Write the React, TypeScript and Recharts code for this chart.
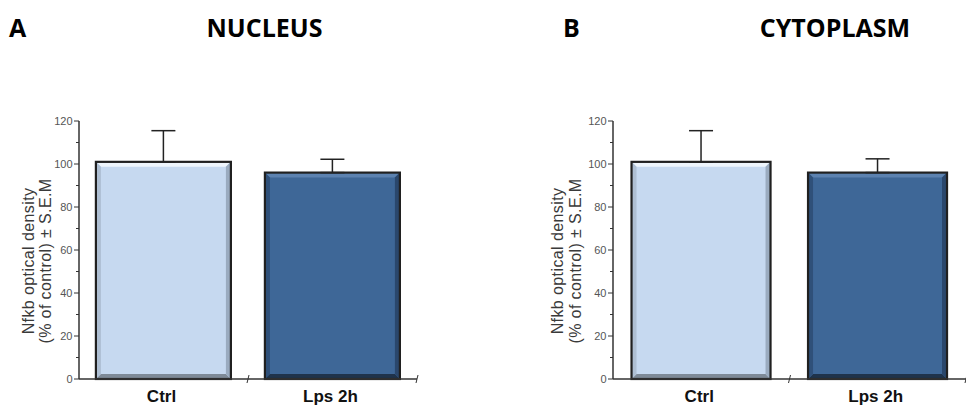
import React from 'react';
import { BarChart, Bar, XAxis, YAxis, ErrorBar, Label } from 'recharts';

// ---- data ----
const categories = ['Ctrl', 'Lps 2h'];
const nucleusMeans = [101, 96];
const nucleusSem = [14.5, 6.2];
const cytoplasmMeans = [101, 96];
const cytoplasmSem = [14.5, 6.4];
const yTicks = [0, 10, 20, 30, 40, 50, 60, 70, 80, 90, 100, 110, 120];
const yMajorTicks = [0, 20, 40, 60, 80, 100, 120];
const panelLetters = ['A', 'B'];
const panelTitles = ['NUCLEUS', 'CYTOPLASM'];
const yLabelLines = ['Nfkb optical density', '(% of control) ± S.E.M'];

const palettes: Record<string, { main: string; top: string; bottom: string; left: string; right: string }> = {
  Ctrl: { main: '#c6d9f0', top: '#eef5fc', bottom: '#7e8a97', left: '#aebfd3', right: '#9aabbf' },
  'Lps 2h': { main: '#3e6797', top: '#5c82b0', bottom: '#1f334b', left: '#2f5079', right: '#2a476c' },
};

const buildData = (means: number[], sems: number[]) =>
  categories.map((c, i) => ({ category: c, mean: means[i], err: [0, sems[i]] }));

const BevelBar = (props: any) => {
  const { x, y, width: w, height: h, payload } = props;
  if (w == null || h == null) return null;
  const p = palettes[payload.category] || palettes.Ctrl;
  const b = 5;
  return (
    <g>
      <rect x={x} y={y} width={w} height={h} fill={p.main} />
      <polygon points={`${x},${y} ${x + w},${y} ${x + w - b},${y + b} ${x + b},${y + b}`} fill={p.top} />
      <polygon points={`${x},${y + h} ${x + w},${y + h} ${x + w - b},${y + h - b} ${x + b},${y + h - b}`} fill={p.bottom} />
      <polygon points={`${x},${y} ${x + b},${y + b} ${x + b},${y + h - b} ${x},${y + h}`} fill={p.left} />
      <polygon points={`${x + w},${y} ${x + w - b},${y + b} ${x + w - b},${y + h - b} ${x + w},${y + h}`} fill={p.right} />
      <rect x={x} y={y} width={w} height={h} fill="none" stroke="#202020" strokeWidth={2.2} />
    </g>
  );
};

const YTick = (props: any) => {
  const { x, y, payload } = props;
  const major = yMajorTicks.includes(payload.value);
  return (
    <g>
      <line x1={x - (major ? 5 : 3)} x2={x} y1={y} y2={y} stroke="#333" strokeWidth={1} />
      {major && (
        <text
          x={x - 6.5}
          y={y}
          textAnchor="end"
          dominantBaseline="central"
          fontFamily="'Liberation Sans Narrow', 'Arial Narrow', 'Liberation Sans', sans-serif"
          fontSize={11}
          fill="#555"
        >
          {payload.value}
        </text>
      )}
    </g>
  );
};

const makeXTick = (halfBand: number) => (props: any) => {
  const { x, y, payload } = props;
  const xb = x + halfBand;
  return (
    <g>
      <line x1={xb - 1} y1={y + 4} x2={xb + 1} y2={y - 4} stroke="#333" strokeWidth={1} />
      <text
        x={x - 2}
        y={y + 23}
        textAnchor="middle"
        fontFamily="'Liberation Sans', Arial, sans-serif"
        fontWeight="bold"
        fontSize={17}
        fill="#111"
      >
        {payload.value}
      </text>
    </g>
  );
};

const makeYLabel = (x1: number, x2: number, cy: number) => () => (
  <g>
    {[x1, x2].map((lx, i) => (
      <text
        key={i}
        x={lx}
        y={cy}
        transform={`rotate(-90, ${lx}, ${cy})`}
        textAnchor="middle"
        dominantBaseline="central"
        fontFamily="'Liberation Sans', Arial, sans-serif"
        fontSize={16}
        letterSpacing={0.4}
        fill="#3a3a3a"
      >
        {yLabelLines[i]}
      </text>
    ))}
  </g>
);

type PanelProps = {
  left: number;
  width: number;
  marginRight: number;
  halfBand: number;
  labelX: [number, number];
  means: number[];
  sems: number[];
  gap: string;
};

const Panel = ({ left, width, marginRight, halfBand, labelX, means, sems, gap }: PanelProps) => {
  const data = buildData(means, sems);
  return (
    <div style={{ position: 'absolute', left, top: 0 }}>
      <BarChart
        width={width}
        height={405}
        data={data}
        margin={{ top: 121, right: marginRight, bottom: 0, left: 0 }}
        barCategoryGap={gap}
      >
        <XAxis
          dataKey="category"
          axisLine={{ stroke: '#333', strokeWidth: 1.5 }}
          tickLine={false}
          tickSize={0}
          tickMargin={0}
          height={26}
          tick={makeXTick(halfBand)}
          interval={0}
        />
        <YAxis
          width={79}
          domain={[0, 120]}
          ticks={yTicks}
          interval={0}
          tickLine={false}
          tickSize={0}
          tickMargin={0}
          axisLine={{ stroke: '#333', strokeWidth: 1.5 }}
          tick={<YTick />}
        >
          <Label content={makeYLabel(labelX[0], labelX[1], 261)} />
        </YAxis>
        <Bar dataKey="mean" isAnimationActive={false} shape={<BevelBar />}>
          <ErrorBar dataKey="err" width={12} stroke="#222" strokeWidth={1.5} direction="y" />
        </Bar>
      </BarChart>
    </div>
  );
};

export default function App() {
  return (
    <div style={{ position: 'absolute', left: 0, top: 0, width: 966, height: 405, background: '#fff', overflow: 'hidden' }}>
      <svg width={966} height={60} style={{ position: 'absolute', left: 0, top: 0 }}>
        <g fontFamily="'Open Sans', sans-serif" fontWeight="bold" fontSize={25} fill="#000">
          <text x={9} y={37}>{panelLetters[0]}</text>
          <text x={264.5} y={37} textAnchor="middle">{panelTitles[0]}</text>
          <text x={563} y={37}>{panelLetters[1]}</text>
          <text x={835} y={37} textAnchor="middle">{panelTitles[1]}</text>
        </g>
      </svg>
      <Panel left={0} width={440} marginRight={23} halfBand={84.5} labelX={[28, 45]} means={nucleusMeans} sems={nucleusSem} gap="10%" />
      <Panel left={534} width={432} marginRight={0} halfBand={88.25} labelX={[23, 41]} means={cytoplasmMeans} sems={cytoplasmSem} gap="10.5%" />
    </div>
  );
}
